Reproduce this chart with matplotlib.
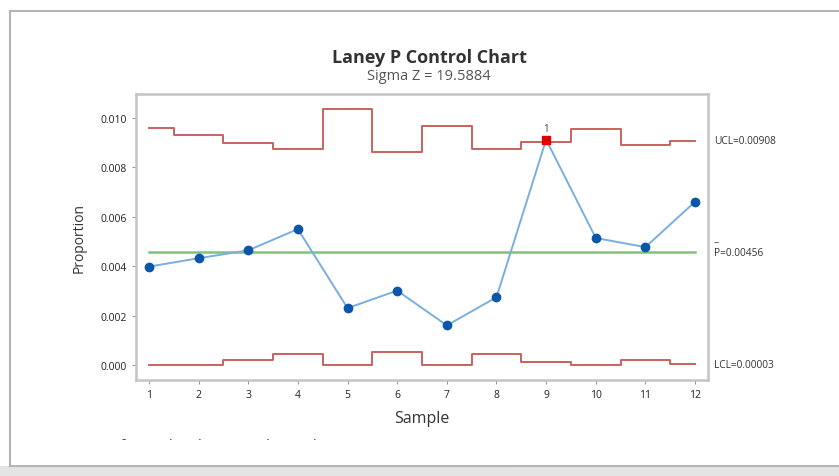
import numpy as np
import matplotlib
matplotlib.use("Agg")
import matplotlib.pyplot as plt
from matplotlib.patches import Rectangle

plt.rcParams["font.family"] = ["Open Sans", "DejaVu Sans"]

# Laney P chart data
samples = np.arange(1, 13)
proportion = [0.00398, 0.00432, 0.00464, 0.00550, 0.00230, 0.00301,
              0.00160, 0.00274, 0.00912, 0.00514, 0.00477, 0.00661]
ucl = [0.00959, 0.00932, 0.00897, 0.00874, 0.01035, 0.00863,
       0.00967, 0.00873, 0.00904, 0.00954, 0.00890, 0.00908]
lcl = [0.0, 0.0, 0.00021, 0.00045, 0.0, 0.00051,
       0.0, 0.00043, 0.00013, 0.0, 0.00021, 0.00003]
p_bar = 0.00456
out_of_control = [9]

W, H = 839, 477
fig = plt.figure(figsize=(W / 100, H / 100), dpi=100)


def fx(px):
    return px / W


def fy(py):
    return 1 - py / H


# screenshot frame + shadow
fig.add_artist(Rectangle((fx(0), fy(477)), 1, fy(467) - fy(477), transform=fig.transFigure,
                         facecolor="#e4e4e4", edgecolor="none", zorder=0))
fig.add_artist(Rectangle((fx(10), fy(467)), 1.2, fy(12) - fy(467), transform=fig.transFigure,
                         facecolor="white", edgecolor="#b4b4b4", lw=1.5, zorder=1))

ax = fig.add_axes([fx(136), fy(381), fx(708) - fx(136), fy(95) - fy(381)])
ax.set_zorder(2)

ax.step(samples, ucl, where="mid", color="#c8625e", lw=1.4, zorder=2)
ax.step(samples, lcl, where="mid", color="#c8625e", lw=1.4, zorder=2)
ax.plot([samples[0], samples[-1]], [p_bar, p_bar], color="#7cc47c", lw=1.8, zorder=2)

ax.plot(samples, proportion, color="#7aaee0", lw=1.4, zorder=3)
ok = [i for i, s in enumerate(samples) if s not in out_of_control]
ax.plot(samples[ok], np.array(proportion)[ok], "o", color="#0b56a8", ms=6, zorder=4)
for s in out_of_control:
    ax.plot(s, proportion[s - 1], "s", color="#e00000", ms=6, zorder=5)
    ax.text(s, proportion[s - 1] + 0.00022, "1", ha="center", va="bottom",
            fontsize=7, color="#444444")

ax.set_xlim(0.74, 12.26)
ax.set_ylim(-0.00061, 0.01097)
ax.set_xticks(samples)
ax.set_yticks([0.0, 0.002, 0.004, 0.006, 0.008, 0.010])
ax.set_yticklabels(["0.000", "0.002", "0.004", "0.006", "0.008", "0.010"])
ax.tick_params(axis="both", labelsize=7.5, colors="#222222", length=3, width=0.8)
ax.tick_params(axis="both", color="#999999")
for sp in ax.spines.values():
    sp.set_color("#c4c4c4")
    sp.set_linewidth(1.8)

ax.set_xlabel("Sample", fontsize=11.5, color="#333333", labelpad=7)
ax.set_ylabel("Proportion", fontsize=10, color="#333333", labelpad=10)

fig.text(fx(429), fy(58), "Laney P Control Chart", ha="center", va="center",
         fontsize=13, fontweight="bold", color="#333333")
fig.text(fx(429), fy(76), "Sigma Z = 19.5884", ha="center", va="center",
         fontsize=10.5, color="#555555")

lab = dict(fontsize=7.3, color="#333333", va="center", ha="left",
           transform=ax.get_yaxis_transform(), clip_on=False)
ax.text(1.01, ucl[-1], "UCL=%.5f" % ucl[-1], **lab)
ax.text(1.01, p_bar, "P=%.5f" % p_bar, **lab)
ax.text(1.01, p_bar + 0.00045, "\u2013", **lab)
ax.text(1.01, lcl[-1], "LCL=%.5f" % lcl[-1], **lab)

# cut-off footnote at the bottom of the screenshot
fig.text(fx(55), fy(447), "Tests performed with unequal sample sizes", ha="left",
         va="center", fontsize=11, color="#444444", zorder=1.5)
fig.add_artist(Rectangle((fx(12), fy(466)), fx(500), fy(441) - fy(466), transform=fig.transFigure,
                         facecolor="white", edgecolor="none", zorder=1.8))

fig.savefig("out.png", dpi=100)
